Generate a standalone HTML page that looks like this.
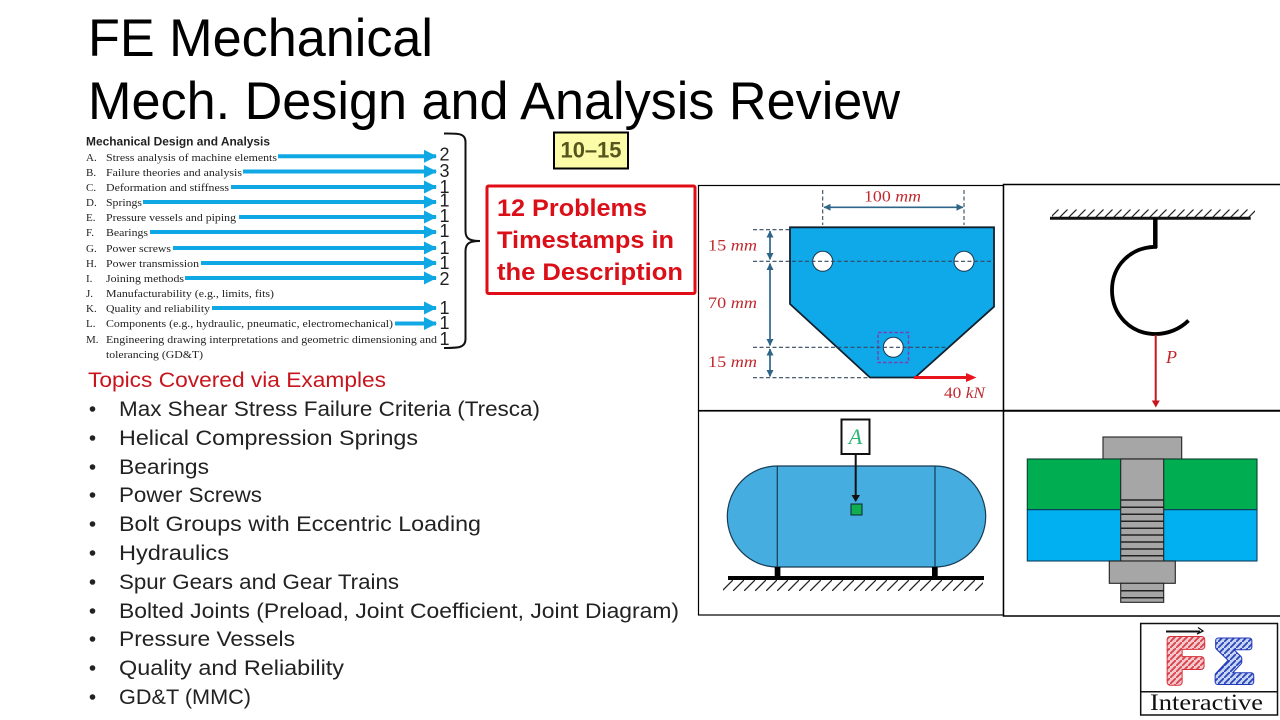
<!DOCTYPE html>
<html lang="en">
<head>
<meta charset="utf-8">
<title>FE Mechanical - Mech. Design and Analysis Review</title>
<style>
html,body{margin:0;padding:0;background:#fff;width:1280px;height:720px;overflow:hidden}
svg{display:block}
.s{font-family:"Liberation Sans",sans-serif}
.r{font-family:"Liberation Serif",serif}
.t{font-size:11px;fill:#222}
.n{font-size:18px;fill:#222;text-anchor:middle}
.b{font-size:21.5px;fill:#222}
.m{font-size:16px;fill:#C0282D}
.m tspan{font-style:italic}
</style>
</head>
<body>
<svg width="1280" height="720" viewBox="0 0 1280 720" xmlns="http://www.w3.org/2000/svg">
<defs>
<pattern id="h1" patternUnits="userSpaceOnUse" width="9" height="9" patternTransform="translate(1050 209)"><path d="M0 9L9 0" stroke="#222" stroke-width="1.200" fill="none"/></pattern>
<pattern id="h2" patternUnits="userSpaceOnUse" width="11" height="11" patternTransform="translate(722 580)"><path d="M0 11L11 0" stroke="#222" stroke-width="1.300" fill="none"/></pattern>
<pattern id="hr" patternUnits="userSpaceOnUse" width="6" height="6"><rect width="6" height="6" fill="#F4C8CC"/><path d="M0 6L6 0" stroke="#D8404A" stroke-width="1.800"/></pattern>
<pattern id="hb" patternUnits="userSpaceOnUse" width="6" height="6"><rect width="6" height="6" fill="#C8D4F4"/><path d="M0 6L6 0" stroke="#2A45B8" stroke-width="1.800"/></pattern>
<marker id="ab" markerUnits="userSpaceOnUse" markerWidth="14" markerHeight="13" refX="12" refY="6.500" orient="auto"><path d="M0 0L13 6.500L0 13Z" fill="#10A8E4"/></marker>
<marker id="ad" markerUnits="userSpaceOnUse" markerWidth="7" markerHeight="7" refX="6.500" refY="3.500" orient="auto-start-reverse"><path d="M0 0L7 3.500L0 7Z" fill="#2F6688"/></marker>
</defs>

<!-- Title -->
<text class="s" x="88" y="56" font-size="53" fill="#000" textLength="345" lengthAdjust="spacingAndGlyphs">FE Mechanical</text>
<text class="s" x="88" y="119" font-size="53" fill="#000" textLength="812" lengthAdjust="spacingAndGlyphs">Mech. Design and Analysis Review</text>

<!-- Syllabus -->
<text class="s" x="86" y="145.500" font-size="11.500" font-weight="bold" fill="#222" textLength="184" lengthAdjust="spacingAndGlyphs">Mechanical Design and Analysis</text>
<g class="r t">
<text x="86" y="161">A.</text><text x="106" y="161" textLength="171" lengthAdjust="spacingAndGlyphs">Stress analysis of machine elements</text>
<text x="86" y="176">B.</text><text x="106" y="176" textLength="136" lengthAdjust="spacingAndGlyphs">Failure theories and analysis</text>
<text x="86" y="191">C.</text><text x="106" y="191" textLength="123" lengthAdjust="spacingAndGlyphs">Deformation and stiffness</text>
<text x="86" y="206">D.</text><text x="106" y="206" textLength="36" lengthAdjust="spacingAndGlyphs">Springs</text>
<text x="86" y="221">E.</text><text x="106" y="221" textLength="130" lengthAdjust="spacingAndGlyphs">Pressure vessels and piping</text>
<text x="86" y="236">F.</text><text x="106" y="236" textLength="42" lengthAdjust="spacingAndGlyphs">Bearings</text>
<text x="86" y="252">G.</text><text x="106" y="252" textLength="65" lengthAdjust="spacingAndGlyphs">Power screws</text>
<text x="86" y="267">H.</text><text x="106" y="267" textLength="93" lengthAdjust="spacingAndGlyphs">Power transmission</text>
<text x="86" y="282">I.</text><text x="106" y="282" textLength="78" lengthAdjust="spacingAndGlyphs">Joining methods</text>
<text x="86" y="297">J.</text><text x="106" y="297" textLength="168" lengthAdjust="spacingAndGlyphs">Manufacturability (e.g., limits, fits)</text>
<text x="86" y="312">K.</text><text x="106" y="312" textLength="104" lengthAdjust="spacingAndGlyphs">Quality and reliability</text>
<text x="86" y="327">L.</text><text x="106" y="327" textLength="287" lengthAdjust="spacingAndGlyphs">Components (e.g., hydraulic, pneumatic, electromechanical)</text>
<text x="86" y="343">M.</text><text x="106" y="343" textLength="331" lengthAdjust="spacingAndGlyphs">Engineering drawing interpretations and geometric dimensioning and</text>
<text x="106" y="358" textLength="97" lengthAdjust="spacingAndGlyphs">tolerancing (GD&amp;T)</text>
</g>
<g stroke="#10A8E4" stroke-width="4" fill="none">
<path d="M278 156.300H436" marker-end="url(#ab)"/>
<path d="M243 171.500H436" marker-end="url(#ab)"/>
<path d="M231 187H436" marker-end="url(#ab)"/>
<path d="M143 202H436" marker-end="url(#ab)"/>
<path d="M239 217H436" marker-end="url(#ab)"/>
<path d="M150 232H436" marker-end="url(#ab)"/>
<path d="M173 248H436" marker-end="url(#ab)"/>
<path d="M201 263H436" marker-end="url(#ab)"/>
<path d="M185 278H436" marker-end="url(#ab)"/>
<path d="M212 308H436" marker-end="url(#ab)"/>
<path d="M395 323.500H436" marker-end="url(#ab)"/>
</g>
<g class="s n">
<text x="444.500" y="160.500">2</text>
<text x="444.500" y="177">3</text>
<text x="444.500" y="193">1</text>
<text x="444.500" y="206.500">1</text>
<text x="444.500" y="222">1</text>
<text x="444.500" y="237">1</text>
<text x="444.500" y="254">1</text>
<text x="444.500" y="269">1</text>
<text x="444.500" y="285">2</text>
<text x="444.500" y="314">1</text>
<text x="444.500" y="329">1</text>
<text x="444.500" y="345">1</text>
</g>
<path d="M444 133.500C458 133.500 465.500 133 465.500 142V231C465.500 239 470 241 480 241C470 241 465.500 243 465.500 251V339C465.500 348 458 348 444 348" fill="none" stroke="#111" stroke-width="2"/>

<!-- Callouts -->
<rect x="554" y="132.500" width="74" height="36" fill="#FBFBA8" stroke="#000" stroke-width="2"/>
<text class="s" x="560.500" y="157.500" font-size="22" font-weight="bold" fill="#55551C" textLength="61" lengthAdjust="spacingAndGlyphs">10–15</text>
<rect x="487" y="186" width="208" height="107.500" rx="1.500" fill="#fff" stroke="#E00D16" stroke-width="3"/>
<g class="s" font-size="24" font-weight="bold" fill="#DA0F18">
<text x="497" y="216" textLength="150" lengthAdjust="spacingAndGlyphs">12 Problems</text>
<text x="497" y="248" textLength="177" lengthAdjust="spacingAndGlyphs">Timestamps in</text>
<text x="497" y="280" textLength="186" lengthAdjust="spacingAndGlyphs">the Description</text>
</g>

<!-- Topics -->
<text class="s" x="88" y="387" font-size="21.500" fill="#C8141C" textLength="298" lengthAdjust="spacingAndGlyphs">Topics Covered via Examples</text>
<g fill="#222">
<circle cx="92.500" cy="409" r="2.800"/><circle cx="92.500" cy="438" r="2.800"/><circle cx="92.500" cy="467" r="2.800"/><circle cx="92.500" cy="495" r="2.800"/><circle cx="92.500" cy="524" r="2.800"/><circle cx="92.500" cy="553" r="2.800"/><circle cx="92.500" cy="582" r="2.800"/><circle cx="92.500" cy="611" r="2.800"/><circle cx="92.500" cy="639" r="2.800"/><circle cx="92.500" cy="668" r="2.800"/><circle cx="92.500" cy="697" r="2.800"/>
</g>
<g class="s b">
<text x="119" y="416" textLength="421" lengthAdjust="spacingAndGlyphs">Max Shear Stress Failure Criteria (Tresca)</text>
<text x="119" y="445" textLength="299" lengthAdjust="spacingAndGlyphs">Helical Compression Springs</text>
<text x="119" y="474" textLength="90" lengthAdjust="spacingAndGlyphs">Bearings</text>
<text x="119" y="502" textLength="143" lengthAdjust="spacingAndGlyphs">Power Screws</text>
<text x="119" y="531" textLength="362" lengthAdjust="spacingAndGlyphs">Bolt Groups with Eccentric Loading</text>
<text x="119" y="560" textLength="110" lengthAdjust="spacingAndGlyphs">Hydraulics</text>
<text x="119" y="589" textLength="280" lengthAdjust="spacingAndGlyphs">Spur Gears and Gear Trains</text>
<text x="119" y="618" textLength="560" lengthAdjust="spacingAndGlyphs">Bolted Joints (Preload, Joint Coefficient, Joint Diagram)</text>
<text x="119" y="646" textLength="176" lengthAdjust="spacingAndGlyphs">Pressure Vessels</text>
<text x="119" y="675" textLength="225" lengthAdjust="spacingAndGlyphs">Quality and Reliability</text>
<text x="119" y="704" textLength="132" lengthAdjust="spacingAndGlyphs">GD&amp;T (MMC)</text>
</g>

<!-- Panel 1: plate -->
<rect x="698.500" y="185.500" width="305" height="225" fill="#fff" stroke="#000" stroke-width="1.200"/>
<path d="M790 227.300H994V306.700L915 377.500H870L790 304Z" fill="#0FA8E8" stroke="#10202C" stroke-width="1.800"/>
<circle cx="822.700" cy="261.300" r="10" fill="#fff" stroke="#1B3A50" stroke-width="1"/>
<circle cx="964" cy="261.300" r="10" fill="#fff" stroke="#1B3A50" stroke-width="1"/>
<circle cx="893.300" cy="347.300" r="10" fill="#fff" stroke="#1B3A50" stroke-width="1"/>
<rect x="878" y="332.500" width="30.500" height="30" fill="none" stroke="#7A3FB0" stroke-width="1.500" stroke-dasharray="3.500 2"/>
<g fill="none" stroke="#34495E" stroke-width="1.100" stroke-dasharray="4 2.500">
<path d="M822.700 190V225M964 190V225"/>
<path d="M753 229.700H790M753 261.300H994M753 347.300H947M753 377.700H870"/>
</g>
<g fill="none" stroke="#2F6688" stroke-width="1.700">
<path d="M824 207.300H963" marker-start="url(#ad)" marker-end="url(#ad)"/>
<path d="M770 231V259.500" marker-start="url(#ad)" marker-end="url(#ad)"/>
<path d="M770 263.500V345.500" marker-start="url(#ad)" marker-end="url(#ad)"/>
<path d="M770 349V376.500" marker-start="url(#ad)" marker-end="url(#ad)"/>
</g>
<g class="r m">
<text x="864" y="201.500" textLength="57" lengthAdjust="spacingAndGlyphs">100 <tspan>mm</tspan></text>
<text x="708" y="250.500" textLength="49" lengthAdjust="spacingAndGlyphs">15 <tspan>mm</tspan></text>
<text x="708" y="308" textLength="49" lengthAdjust="spacingAndGlyphs">70 <tspan>mm</tspan></text>
<text x="708" y="367" textLength="49" lengthAdjust="spacingAndGlyphs">15 <tspan>mm</tspan></text>
<text x="944" y="398" textLength="41" lengthAdjust="spacingAndGlyphs">40 <tspan>kN</tspan></text>
</g>
<path d="M914 377.500H968" stroke="#E8141C" stroke-width="3"/>
<path d="M966 373L976.500 377.500L966 382Z" fill="#E8141C"/>

<!-- Panel 2: hook -->
<rect x="1003.500" y="184.500" width="280" height="226" fill="#fff" stroke="#000" stroke-width="1.500"/>
<rect x="1052" y="209.500" width="203" height="8" fill="url(#h1)"/>
<path d="M1050 218.300H1250.700" stroke="#111" stroke-width="3"/>
<path d="M1155.300 218V248" stroke="#000" stroke-width="4.500"/>
<path d="M1157 246.800C1130 246.800 1112 266 1112 290.300C1112 315 1131 334 1155.500 334C1168 334 1180 329 1188.500 320.500" fill="none" stroke="#000" stroke-width="3.800"/>
<path d="M1155.700 335V402" stroke="#C9151E" stroke-width="2"/>
<path d="M1151.800 400.500H1159.800L1155.800 407.500Z" fill="#C9151E"/>
<text class="r" x="1166" y="363" font-size="18" font-style="italic" fill="#C0282D">P</text>

<!-- Panel 3: tank -->
<rect x="698.500" y="411" width="305" height="204" fill="#fff" stroke="#000" stroke-width="1.200"/>
<path d="M777.300 466H935C963 466 985.700 488.600 985.700 516.500C985.700 544.400 963 567 935 567H777.300C749.400 567 727.300 544.400 727.300 516.500C727.300 488.600 749.400 466 777.300 466Z" fill="#46ADE0" stroke="#173B52" stroke-width="1.200"/>
<path d="M777.300 466V567M935 466V567" stroke="#173B52" stroke-width="1.200"/>
<rect x="841.500" y="419.500" width="28" height="34.500" fill="#fff" stroke="#111" stroke-width="2"/>
<text class="r" x="855.500" y="444" font-size="22" font-style="italic" fill="#2BB673" text-anchor="middle">A</text>
<path d="M855.700 454V496" stroke="#111" stroke-width="2"/>
<path d="M851.500 495H860L855.700 502Z" fill="#111"/>
<rect x="851" y="504" width="11" height="11" fill="#0FAF50" stroke="#123" stroke-width="1"/>
<rect x="774.700" y="567" width="5.700" height="10" fill="#000"/>
<rect x="932" y="567" width="5.700" height="10" fill="#000"/>
<rect x="723" y="580" width="260" height="11" fill="url(#h2)"/>
<path d="M728 578H984" stroke="#000" stroke-width="4"/>

<!-- Panel 4: bolt -->
<rect x="1003.500" y="411" width="280" height="205" fill="#fff" stroke="#000" stroke-width="1.500"/>
<g stroke="#222" stroke-width="1.100">
<rect x="1103" y="437" width="78.700" height="22" fill="#A6A6A6"/>
<rect x="1027.300" y="459" width="229.700" height="50.700" fill="#00AD50" stroke="#0C4030"/>
<rect x="1027.300" y="509.700" width="229.700" height="51.300" fill="#00B0F0" stroke="#0C4060"/>
<rect x="1120.700" y="459" width="43" height="102" fill="#A6A6A6"/>
<rect x="1109.300" y="561" width="66" height="22.300" fill="#A6A6A6"/>
<rect x="1120.700" y="583.300" width="43" height="19" fill="#A6A6A6"/>
</g>
<path d="M1120.700 500H1163.700M1120.700 507.300H1163.700M1120.700 514.300H1163.700M1120.700 521.300H1163.700M1120.700 528.300H1163.700M1120.700 535H1163.700M1120.700 542H1163.700M1120.700 549H1163.700M1120.700 555.700H1163.700M1120.700 590.700H1163.700M1120.700 597.700H1163.700" stroke="#222" stroke-width="1.500"/>

<!-- Logo -->
<rect x="1140.700" y="623.500" width="136.800" height="91.500" fill="#fff" stroke="#111" stroke-width="1.500"/>
<path d="M1140.700 691.700H1277.500" stroke="#111" stroke-width="1.500"/>
<path d="M1166 631.500H1200" stroke="#111" stroke-width="2"/>
<path d="M1198 627.500L1203 631L1197 634" fill="none" stroke="#111" stroke-width="1.300"/>
<text class="s" x="1166" y="682" font-size="62" font-weight="bold" fill="none" stroke="#D8303A" stroke-width="7" stroke-linejoin="round" textLength="38" lengthAdjust="spacingAndGlyphs">F</text>
<text class="s" x="1166" y="682" font-size="62" font-weight="bold" fill="url(#hr)" stroke="url(#hr)" stroke-width="5" stroke-linejoin="round" textLength="38" lengthAdjust="spacingAndGlyphs" aria-hidden="true">F</text>
<text class="s" x="1215" y="682" font-size="60" font-weight="bold" fill="none" stroke="#2238B8" stroke-width="6" stroke-linejoin="round" textLength="38" lengthAdjust="spacingAndGlyphs">Σ</text>
<text class="s" x="1215" y="682" font-size="60" font-weight="bold" fill="url(#hb)" stroke="url(#hb)" stroke-width="4" stroke-linejoin="round" textLength="38" lengthAdjust="spacingAndGlyphs" aria-hidden="true">Σ</text>
<text class="r" x="1150" y="710" font-size="23" fill="#111" textLength="113" lengthAdjust="spacingAndGlyphs">Interactive</text>
</svg>
</body>
</html>
